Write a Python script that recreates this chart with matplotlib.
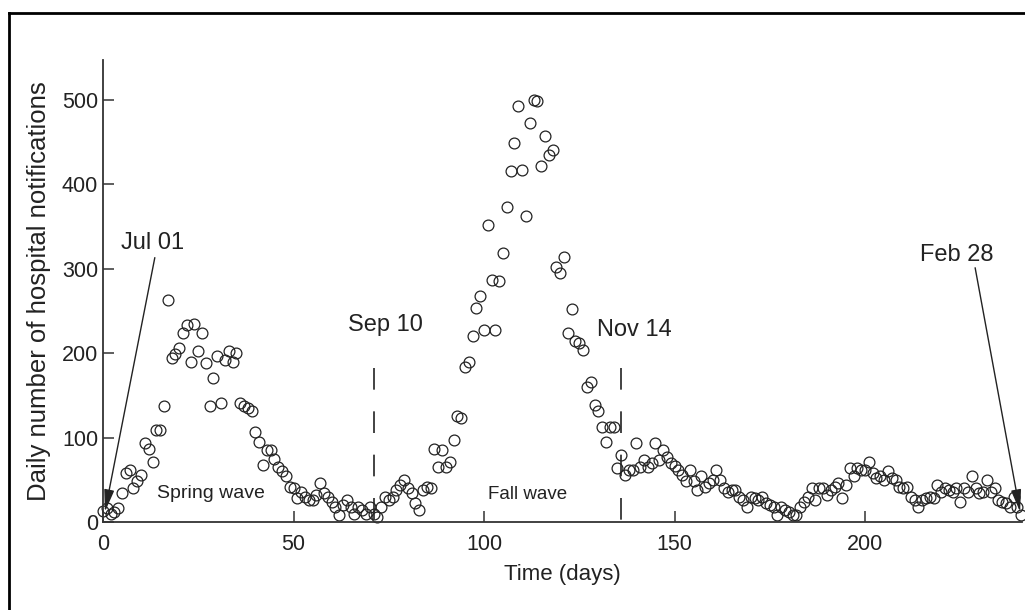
import numpy as np
import matplotlib
matplotlib.use("Agg")
import matplotlib.pyplot as plt
from matplotlib.lines import Line2D

plt.rcParams['font.family'] = ['Liberation Sans', 'DejaVu Sans']

# daily hospital notifications, day 0 = Jul 01
spring = [13, 16, 10, 12, 16, 34, 58, 62, 40, 48, 56, 93, 87, 71, 109, 109, 137, 263,
          194, 199, 206, 224, 233, 190, 235, 202, 224, 188, 137, 170, 196, 141, 192, 202,
          190, 200, 141, 137, 135, 131, 107, 95, 67, 85, 85, 75, 65, 60, 54, 42, 40, 28,
          36, 30, 26, 26, 32, 46, 34, 30, 24, 18, 8, 20, 26, 18, 10, 18, 14, 10, 18, 10]
fall = [6, 18, 30, 26, 30, 38, 44, 50, 40, 34, 22, 14, 38, 42, 40, 87, 65, 85, 65, 71,
        97, 125, 123, 184, 190, 220, 253, 267, 227, 352, 287, 227, 285, 318, 373, 415,
        449, 492, 417, 362, 472, 500, 498, 421, 457, 435, 440, 302, 295, 314, 224, 252,
        214, 212, 204, 160, 166, 139, 131, 113, 95, 113, 113, 64, 79]
winter = [56, 62, 62, 93, 65, 73, 65, 70, 93, 73, 85, 77, 70, 66, 62, 56, 48, 62, 48,
          38, 54, 42, 46, 50, 62, 50, 40, 36, 38, 38, 30, 26, 18, 30, 28, 26, 30, 22, 20,
          18, 8, 18, 14, 12, 8, 8, 18, 24, 30, 40, 26, 40, 40, 32, 38, 42, 46, 28, 44, 64,
          54, 64, 62, 62, 71, 58, 52, 54, 50, 60, 52, 50, 42, 40, 42, 30, 26, 18, 26, 28,
          30, 28, 44, 36, 40, 38, 36, 40, 24, 40, 36, 54, 40, 34, 36, 50, 36, 40, 26, 24,
          22, 18, 30, 18, 8]
counts = np.array(spring + fall + winter)
days = np.arange(len(counts))

# vertical markers: Sep 10 and Nov 14
mark_days = [71, 136]
mark_labels = ['Sep 10', 'Nov 14']

fig = plt.figure(figsize=(10.25, 6.1), dpi=100)
ax = fig.add_axes([103/1025, 1 - 522/610, 919/1025, 462/610])

ax.plot(days, counts, 'o', mfc='none', mec='#222222', ms=7.8, mew=0.9, clip_on=False)

for d in mark_days:
    ax.plot([d, d], [182, 0], color='#222222', lw=1.2, ls=(0, (13, 13)))

ax.text(74, 233, mark_labels[0], fontsize=17, ha='center', va='center', color='#222222')
ax.text(139.5, 227, mark_labels[1], fontsize=17, ha='center', va='center', color='#222222')
ax.text(28.3, 34, 'Spring wave', fontsize=14, ha='center', va='center', color='#222222')
ax.text(111.3, 33, 'Fall wave', fontsize=13.5, ha='center', va='center', color='#222222')

arrow = dict(arrowstyle='-|>,head_length=0.75,head_width=0.17', color='#222222', lw=1,
             mutation_scale=18, shrinkA=0, shrinkB=0)
ax.annotate('', xy=(0.5, 12), xytext=(13.6, 313), arrowprops=arrow, zorder=5)
ax.text(12.9, 330, 'Jul 01', fontsize=17, ha='center', va='center', color='#222222')
ax.annotate('', xy=(240.7, 12), xytext=(228.9, 301), arrowprops=arrow, zorder=5)
ax.text(224, 316, 'Feb 28', fontsize=17, ha='center', va='center', color='#222222')

ax.set_xlim(0, 241.2)
ax.set_ylim(0, 547)
ax.set_xticks([0, 50, 100, 150, 200])
ax.set_yticks([0, 100, 200, 300, 400, 500])
ax.spines['top'].set_visible(False)
ax.spines['right'].set_visible(False)
for s in ['left', 'bottom']:
    ax.spines[s].set_linewidth(1.3)
    ax.spines[s].set_color('#333333')
ax.tick_params(direction='in', length=8, width=1.1, labelsize=15.5, colors='#333333',
               labelcolor='#222222')
ax.tick_params(axis='x', pad=9)
ax.set_xlabel('Time (days)', fontsize=16, color='#222222', labelpad=6)
ax.set_ylabel('Daily number of hospital notifications', fontsize=18.5, color='#222222',
              labelpad=8)

# outer frame (left and top edges)
fig.add_artist(Line2D([9/1025, 9/1025], [0, 1 - 13/610], transform=fig.transFigure,
                      color='black', lw=2))
fig.add_artist(Line2D([9/1025, 1], [1 - 13/610, 1 - 13/610], transform=fig.transFigure,
                      color='black', lw=2))

fig.savefig('out.png', dpi=100)
